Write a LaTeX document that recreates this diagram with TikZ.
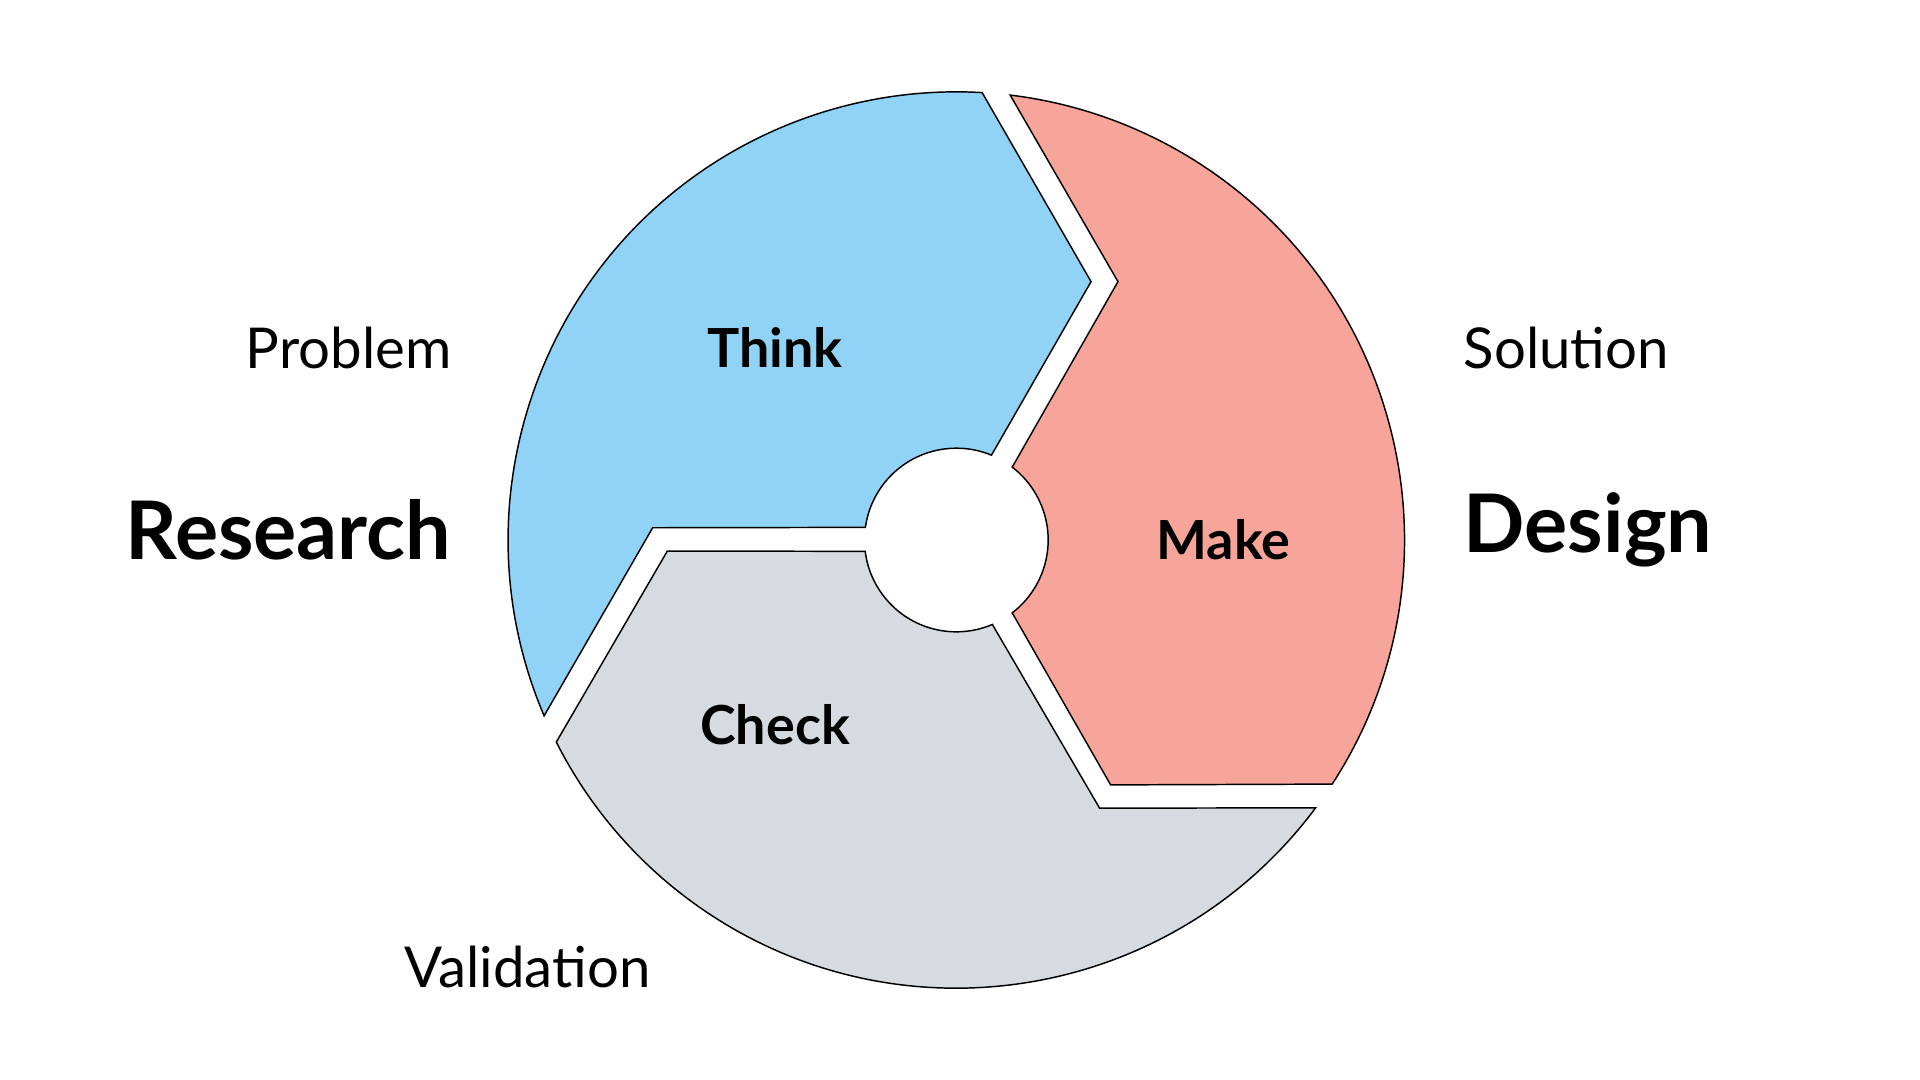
\documentclass[tikz,border=0pt]{standalone}
\usepackage{fontspec}
\setmainfont{Lato}
\usetikzlibrary{calc}
\definecolor{cblue}{HTML}{90D3F7}
\definecolor{cred}{HTML}{F7A59A}
\definecolor{cgrey}{HTML}{D5DBE0}
\begin{document}
\begin{tikzpicture}[x=0.5pt,y=-0.5pt,
  seg/.style={draw=black,line width=0.6pt,line join=miter},
  small/.style={font=\fontsize{23}{26}\selectfont},
  big/.style={font=\fontsize{33}{38}\selectfont\bfseries},
  mid/.style={font=\fontsize{22}{26}\selectfont\bfseries}]
\useasboundingbox (0,0) rectangle (1568,882);
\coordinate (c) at (781,441);
\def\R{366}\def\r{75}
% Think
\draw[seg,fill=cblue] ($(c)+(273.3:\R)$) -- (891,230) -- ($(c)+(292.5:\r)$)
  arc[start angle=292.5,end angle=187.9,radius=\r] -- (533,431) -- ($(c)+(156.9:\R)$)
  arc[start angle=156.9,end angle=273.3,radius=\R] -- cycle;
% Make
\draw[seg,fill=cred] ($(c)+(276.9:\R)$) -- (913,230) -- ($(c)+(307.5:\r)$)
  arc[start angle=307.5,end angle=412.5,radius=\r] -- (907,641) -- ($(c)+(33:\R)$)
  arc[start angle=33,end angle=-83.1,radius=\R] -- cycle;
% Check
\draw[seg,fill=cgrey] (545,450) -- ($(c)+(172.9:\r)$)
  arc[start angle=172.9,end angle=66.9,radius=\r] -- (898,660) -- ($(c)+(36.7:\R)$)
  arc[start angle=36.7,end angle=153.2,radius=\R] -- cycle;
\node[mid] (think) at (633,284) {Think};
\node[mid] (make) at (999,441) {Make};
\node[mid] (check) at (633,592) {Check};
\node[small,anchor=east,inner sep=0] (problem) at (369,284) {Problem};
\node[big,anchor=east,inner sep=0] (research) at (369,433) {Research};
\node[small,anchor=west,inner sep=0] (solution) at (1195,284) {Solution};
\node[big,anchor=west,inner sep=0] (design) at (1195,433) {Design};
\node[small,anchor=west,inner sep=0] (validation) at (330,790) {Validation};
\end{tikzpicture}
\end{document}
